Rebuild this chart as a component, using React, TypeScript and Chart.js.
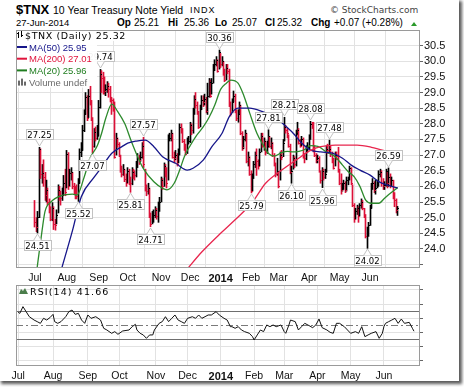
import React, { useEffect, useRef } from 'react';
import { Chart, registerables } from 'chart.js';
Chart.register(...registerables);

// ---------- axis labels ----------
const monthIdx = [0, 22, 44, 64, 87, 107, 128, 149, 168, 189, 210, 231];
const monthLbl = ['Jul', 'Aug', 'Sep', 'Oct', 'Nov', 'Dec', '2014', 'Feb', 'Mar', 'Apr', 'May', 'Jun'];
const yGrid = [23.5, 23.75, 24, 24.25, 24.5, 24.75, 25, 25.25, 25.5, 25.75, 26, 26.25, 26.5, 26.75, 27, 27.25,
  27.5, 27.75, 28, 28.25, 28.5, 28.75, 29, 29.25, 29.5, 29.75, 30, 30.25, 30.5, 30.75];
const yLabels = [24, 24.5, 25, 25.5, 26, 26.5, 27, 27.5, 28, 28.5, 29, 29.5, 30, 30.5];
const rsiGrid = [0, 10, 20, 30, 40, 50, 60, 70, 80, 90, 100];
const rsiLabels = [10, 30, 50, 70, 90];

// ---------- daily bars (Jul 2013 .. Jun 27 2014) ----------
const highs = [
  /*Jul*/ 25.55, 25.00, 25.20, 27.25, 27.20, 26.70, 26.85, 26.45, 26.20, 25.95, 25.60, 25.35, 25.48, 25.35, 24.95, 25.25, 26.05, 26.00, 25.85, 25.95, 26.35, 26.55,
  /*Aug*/ 27.15, 27.08, 26.55, 26.60, 26.45, 26.10, 26.00, 26.05, 26.25, 27.20, 27.40, 27.95, 28.45, 29.00, 28.90, 29.10, 29.20, 28.75, 28.20, 27.85, 27.90, 27.95,
  /*Sep*/ 28.75, 29.74, 29.70, 29.65, 29.50, 29.25, 29.35, 29.30, 29.20, 28.85, 28.80, 28.70, 27.70, 27.55, 27.40, 27.00, 26.65, 26.70, 26.55, 26.40,
  /*Oct*/ 26.60, 26.55, 26.30, 26.60, 26.55, 26.50, 26.80, 27.05, 27.00, 27.10, 27.40, 27.57, 26.55, 26.05, 26.10, 25.95, 25.15, 25.20, 25.25, 25.35, 25.30, 25.50, 25.65,
  /*Nov*/ 26.30, 26.25, 26.75, 26.70, 26.60, 27.65, 27.70, 27.80, 27.70, 27.10, 27.15, 27.05, 27.20, 28.00, 28.00, 27.85, 27.50, 27.35, 27.55, 27.60,
  /*Dec*/ 28.05, 28.00, 28.50, 28.90, 29.00, 28.70, 28.40, 28.60, 28.90, 28.90, 28.95, 28.85, 29.30, 29.45, 29.40, 29.45, 29.90, 30.05, 30.15, 30.05, 30.36,
  /*Jan*/ 30.25, 30.15, 30.00, 29.75, 29.90, 29.90, 29.75, 28.70, 28.80, 29.05, 28.95, 28.45, 28.45, 28.70, 28.60, 27.75, 27.60, 27.80, 27.70, 27.10, 26.95,
  /*Feb*/ 26.50, 26.40, 26.80, 27.10, 27.20, 26.85, 27.20, 27.70, 27.70, 27.55, 27.45, 27.45, 27.81, 27.60, 27.55, 27.40, 27.05, 26.75, 26.90,
  /*Mar*/ 26.45, 27.10, 27.15, 27.50, 28.21, 27.95, 27.85, 27.65, 27.35, 26.65, 27.00, 26.95, 27.80, 28.05, 27.85, 27.50, 27.60, 27.55, 27.05, 27.30, 27.40,
  /*Apr*/ 27.65, 28.08, 28.05, 28.05, 27.30, 27.05, 27.00, 26.95, 26.50, 26.60, 26.55, 26.55, 27.30, 27.35, 27.48, 27.30, 27.10, 26.90, 27.10, 27.10, 27.25,
  /*May*/ 26.55, 26.40, 26.10, 26.20, 26.15, 26.30, 26.30, 26.65, 26.60, 26.05, 25.45, 25.30, 25.40, 25.35, 25.45, 25.60, 25.55, 25.30, 25.10, 24.70, 24.85,
  /*Jun*/ 25.40, 26.10, 26.25, 26.15, 26.20, 26.20, 26.50, 26.55, 26.50, 26.25, 26.15, 26.55, 26.45, 26.59, 26.40, 26.30, 26.20, 25.80, 25.60, 25.36,
];
const lows = [
  /*Jul*/ 24.70, 24.55, 24.51, 25.00, 26.25, 26.10, 26.00, 25.55, 25.50, 25.40, 25.15, 24.90, 24.90, 24.62, 24.60, 24.80, 25.15, 25.55, 25.40, 25.55, 25.70, 25.70,
  /*Aug*/ 25.95, 25.90, 26.00, 26.20, 25.92, 25.75, 25.60, 25.60, 25.52, 26.10, 26.95, 27.15, 27.75, 28.30, 28.10, 28.20, 28.60, 28.10, 27.07, 27.25, 27.45, 27.50,
  /*Sep*/ 27.60, 28.50, 29.00, 28.95, 28.95, 28.90, 29.00, 28.85, 28.70, 28.30, 28.40, 26.90, 27.00, 27.25, 26.95, 26.45, 26.30, 26.35, 26.15, 26.00,
  /*Oct*/ 26.10, 26.05, 25.81, 26.05, 26.25, 26.20, 26.30, 26.60, 26.70, 26.80, 26.90, 26.60, 25.85, 25.70, 25.75, 25.00, 24.71, 24.80, 24.85, 25.00, 24.95, 24.85, 25.20,
  /*Nov*/ 25.50, 25.90, 26.00, 26.30, 25.95, 26.20, 27.45, 27.45, 26.90, 26.75, 26.85, 26.65, 26.75, 27.00, 27.70, 27.40, 27.15, 27.00, 27.05, 27.35,
  /*Dec*/ 27.40, 27.65, 27.70, 28.30, 28.50, 28.30, 27.85, 27.90, 28.45, 28.55, 28.60, 28.35, 28.30, 28.85, 28.85, 28.95, 29.30, 29.70, 29.85, 29.65, 29.75,
  /*Jan*/ 29.80, 29.85, 29.55, 29.35, 29.40, 29.60, 28.55, 28.25, 28.35, 28.70, 28.35, 28.10, 28.05, 28.30, 27.65, 27.15, 27.20, 27.45, 26.75, 26.65, 26.35,
  /*Feb*/ 25.79, 25.85, 26.25, 26.60, 26.35, 26.55, 26.65, 27.10, 27.25, 27.15, 27.00, 27.05, 27.25, 27.25, 27.20, 26.95, 26.65, 26.30, 26.35,
  /*Mar*/ 25.95, 26.20, 26.85, 26.95, 27.45, 27.70, 27.55, 27.25, 26.40, 26.10, 26.55, 26.60, 26.65, 27.65, 27.35, 27.25, 27.30, 26.90, 26.75, 26.85, 27.10,
  /*Apr*/ 27.20, 27.50, 27.85, 27.10, 26.95, 26.75, 26.75, 26.45, 26.10, 25.96, 26.20, 26.25, 26.45, 27.05, 27.05, 26.95, 26.75, 26.55, 26.65, 26.85, 26.45,
  /*May*/ 26.05, 25.75, 25.85, 25.90, 25.80, 25.85, 26.05, 26.20, 26.05, 25.35, 24.85, 24.95, 25.10, 24.85, 25.05, 25.30, 25.25, 25.00, 24.35, 24.02, 24.40,
  /*Jun*/ 24.75, 25.30, 25.90, 25.80, 25.75, 25.95, 26.00, 26.30, 26.00, 25.90, 25.90, 26.00, 25.95, 26.00, 25.95, 26.00, 25.60, 25.35, 25.15, 25.07,
];
const closes = [
  /*Jul*/ 24.85, 24.70, 25.03, 27.20, 26.38, 26.42, 26.30, 25.72, 25.88, 25.50, 25.32, 24.97, 25.30, 24.80, 24.78, 25.10, 25.90, 25.70, 25.62, 25.80, 26.12, 25.82,
  /*Aug*/ 27.05, 26.00, 26.42, 26.45, 26.00, 25.80, 25.78, 25.70, 26.10, 27.10, 27.15, 27.80, 28.30, 28.85, 28.20, 28.90, 28.65, 28.20, 27.30, 27.75, 27.55, 27.85,
  /*Sep*/ 28.55, 29.60, 29.45, 29.35, 29.05, 29.12, 29.20, 29.10, 28.85, 28.75, 28.50, 26.95, 27.55, 27.35, 27.00, 26.55, 26.40, 26.55, 26.25, 26.10,
  /*Oct*/ 26.50, 26.20, 26.10, 26.45, 26.40, 26.35, 26.70, 26.90, 26.85, 26.95, 27.30, 26.70, 25.95, 25.85, 25.95, 25.10, 24.80, 25.05, 25.10, 25.25, 25.05, 25.35, 25.50,
  /*Nov*/ 26.20, 26.00, 26.65, 26.40, 26.10, 27.50, 27.55, 27.70, 26.95, 26.90, 27.00, 26.70, 27.10, 27.90, 27.85, 27.45, 27.25, 27.05, 27.40, 27.45,
  /*Dec*/ 27.95, 27.80, 28.40, 28.80, 28.60, 28.40, 27.90, 28.50, 28.75, 28.70, 28.80, 28.40, 28.90, 29.35, 28.90, 29.30, 29.80, 29.90, 30.05, 29.70, 30.30,
  /*Jan*/ 29.90, 30.00, 29.60, 29.40, 29.80, 29.70, 28.60, 28.30, 28.70, 28.90, 28.40, 28.20, 28.30, 28.60, 27.70, 27.25, 27.50, 27.70, 26.80, 26.95, 26.40,
  /*Feb*/ 25.85, 26.30, 26.70, 27.00, 26.80, 26.65, 27.10, 27.60, 27.30, 27.45, 27.10, 27.30, 27.60, 27.30, 27.40, 27.00, 26.70, 26.40, 26.50,
  /*Mar*/ 26.00, 27.00, 26.95, 27.40, 27.90, 27.80, 27.70, 27.30, 26.45, 26.50, 26.90, 26.70, 27.70, 27.80, 27.40, 27.30, 27.50, 26.95, 26.90, 27.20, 27.25,
  /*Apr*/ 27.55, 28.00, 27.95, 27.20, 27.00, 26.85, 26.90, 26.50, 26.20, 26.50, 26.30, 26.40, 27.20, 27.15, 27.20, 27.05, 26.85, 26.60, 27.00, 26.98, 26.50,
  /*May*/ 26.10, 25.90, 26.00, 26.10, 25.90, 26.20, 26.25, 26.60, 26.10, 25.40, 24.95, 25.20, 25.30, 25.05, 25.40, 25.50, 25.30, 25.05, 24.42, 24.60, 24.75,
  /*Jun*/ 25.30, 26.00, 26.10, 25.90, 25.95, 26.05, 26.40, 26.45, 26.10, 26.00, 26.05, 26.50, 26.10, 26.30, 26.00, 26.20, 25.70, 25.55, 25.25, 25.32,
];

// ---------- moving averages (read at sample days) ----------
const ma20Idx = [1, 5, 7, 11, 18, 26, 29, 34, 38, 43, 46, 49, 53, 57, 62, 66, 69, 75, 82, 88, 91, 96, 100, 103, 107, 111, 116, 120, 124, 128, 132, 135, 140, 144, 148, 153, 157, 161, 165, 170, 174, 178, 182, 186, 190, 195, 201, 207, 212, 216, 220, 224, 228, 232, 237, 241, 245, 250];
const ma20Val = [23.2, 24.6, 25.2, 25.5, 25.7, 25.75, 25.72, 26.3, 26.9, 27.3, 27.7, 28.2, 28.63, 28.4, 28.0, 27.5, 27.15, 26.55, 26.15, 25.94, 25.89, 26.1, 26.55, 26.95, 27.3, 27.6, 27.9, 28.2, 28.6, 29.1, 29.3, 29.4, 29.3, 28.9, 28.35, 27.7, 27.35, 27.05, 26.97, 27.08, 27.12, 27.1, 27.12, 27.18, 27.3, 27.28, 27.1, 26.95, 26.68, 26.47, 26.31, 26.0, 25.56, 25.46, 25.46, 25.62, 25.78, 25.96];
const ma50Idx = [18, 26, 32, 41, 47, 53, 60, 64, 70, 76, 82, 88, 97, 105, 109, 116, 122, 129, 134, 140, 148, 157, 165, 172, 178, 184, 190, 197, 205, 212, 218, 224, 231, 237, 243, 250];
const ma50Val = [23.3, 24.6, 25.67, 26.3, 26.68, 27.06, 27.27, 27.38, 27.45, 27.48, 27.27, 26.95, 26.74, 26.52, 26.58, 26.84, 27.27, 27.7, 28.23, 28.5, 28.5, 28.39, 28.23, 27.96, 27.7, 27.38, 27.16, 27.1, 27.06, 26.9, 26.68, 26.52, 26.36, 26.15, 26.04, 25.95];
const ma200Idx = [104, 115, 128, 138, 150, 159, 170, 180, 190, 197, 207, 222, 232, 243, 250];
const ma200Val = [23.3, 23.9, 24.5, 24.93, 25.5, 26.1, 26.52, 26.84, 27.15, 27.27, 27.32, 27.32, 27.25, 27.11, 27.01];

// ---------- RSI(14) ----------
const rsiIdx = [0, 1, 3, 5, 7, 10, 12, 14, 16, 18, 20, 22, 23, 25, 27, 30, 32, 34, 36, 38, 40, 42, 44, 46, 49, 52, 54, 56, 59, 61, 63, 66, 70, 72, 74, 75, 77, 79, 81, 83, 85, 86, 89, 91, 93, 95, 97, 99, 101, 103, 105, 107, 110, 112, 114, 116, 118, 120, 122, 125, 127, 130, 132, 134, 135, 137, 139, 141, 143, 146, 148, 149, 151, 153, 155, 157, 159, 161, 163, 166, 168, 169, 171, 172, 175, 177, 179, 181, 183, 186, 188, 190, 192, 195, 197, 199, 201, 203, 206, 208, 210, 213, 215, 217, 219, 221, 223, 226, 228, 230, 231, 232, 234, 236, 238, 240, 242, 244, 247, 249, 250];
const rsiVal = [68.4, 66.9, 76.4, 69.3, 62.2, 57.5, 55.2, 52.8, 59.9, 57.5, 60.8, 65.5, 55.2, 52.8, 55.2, 62.2, 69.3, 71.6, 65.5, 66.9, 57.5, 52.8, 64.6, 59.9, 62.2, 57.5, 45.8, 43.4, 38.7, 41.1, 37.3, 42.0, 43.4, 48.1, 51.4, 43.4, 38.7, 36.4, 31.6, 36.4, 36.4, 43.4, 52.8, 55.2, 62.2, 55.2, 59.9, 64.6, 57.5, 55.2, 52.8, 59.9, 62.2, 59.9, 64.6, 59.9, 62.2, 64.6, 64.6, 69.3, 64.6, 59.9, 57.5, 48.1, 48.1, 45.8, 48.1, 43.4, 41.1, 38.7, 34.0, 29.3, 36.4, 43.4, 41.1, 50.5, 48.1, 50.5, 48.1, 50.5, 41.1, 38.7, 50.5, 57.5, 55.2, 43.4, 48.1, 52.8, 50.5, 46.7, 50.5, 58.9, 46.7, 43.4, 40.1, 38.7, 52.8, 52.8, 48.1, 43.4, 38.7, 41.1, 38.7, 48.1, 34.0, 36.4, 38.7, 41.1, 31.6, 38.7, 48.1, 52.8, 55.2, 57.5, 59.9, 52.8, 58.9, 52.8, 54.2, 45.8, 41.66];

// ---------- high / low markers ----------
const annIdx = [3, 2, 30, 40, 45, 66, 75, 80, 127, 149, 161, 172, 177, 190, 198, 203, 229, 244];
const annVal = [27.25, 24.51, 25.52, 27.07, 29.74, 25.81, 27.57, 24.71, 30.36, 25.79, 27.81, 28.21, 26.10, 28.08, 25.96, 27.48, 24.02, 26.59];
const annPos = ['a', 'b', 'b', 'b', 'a', 'b', 'a', 'b', 'a', 'b', 'a', 'a', 'b', 'a', 'b', 'a', 'b', 'a'];

const legendRows = [
  { text: 'MA(50) 25.95', color: '#16168a' },
  { text: 'MA(200) 27.01', color: '#e0143c' },
  { text: 'MA(20) 25.96', color: '#1f7d1f' },
];

const C_UP = '#000000';
const C_DN = '#dc1038';
const C_MA50 = '#16168a';
const C_MA200 = '#e8264e';
const C_MA20 = '#2d8a2d';
const GRID = '#e2e2e2';
const FRAME = '#9a9a9a';
const SANS = '"Liberation Sans", Arial, sans-serif';
const DV = '"DejaVu Sans", Verdana, sans-serif';

function xAxis(showLabels: boolean, height: number) {
  return {
    type: 'linear' as const,
    min: -1.4,
    max: 253.8,
    afterBuildTicks: (ax: any) => { ax.ticks = monthIdx.map((v) => ({ value: v })); },
    afterFit: (ax: any) => { ax.height = height; ax.paddingLeft = 0; ax.paddingRight = 0; },
    grid: { color: GRID, drawTicks: false, lineWidth: 1 },
    border: { display: false },
    ticks: {
      display: showLabels,
      autoSkip: false,
      maxRotation: 0,
      minRotation: 0,
      padding: 4,
      color: '#111',
      callback: (v: any) => { const k = monthIdx.indexOf(v); return k >= 0 ? monthLbl[k] : ''; },
      font: (ctx: any) => ({ family: SANS, size: ctx.tick && ctx.tick.value === 128 ? 11 : 10.5, weight: ctx.tick && ctx.tick.value === 128 ? 'bold' : 'normal' }),
    },
  };
}

const framePlugin = {
  id: 'frame',
  afterDraw(chart: any) {
    const { ctx, chartArea: a } = chart;
    ctx.save();
    ctx.strokeStyle = FRAME;
    ctx.lineWidth = 1;
    ctx.strokeRect(a.left + 0.5, a.top + 0.5, a.right - a.left - 1, a.bottom - a.top - 1);
    ctx.restore();
  },
};

const snapPlugin = {
  id: 'snap',
  beforeDatasetsDraw(chart: any) {
    chart.data.datasets.forEach((ds: any, i: number) => {
      if (ds.type !== 'bar') return;
      chart.getDatasetMeta(i).data.forEach((el: any) => { el.x = Math.floor(el.x) + 0.5; });
    });
  },
  afterDatasetDraw(chart: any, args: any) {
    const ds = chart.data.datasets[args.index];
    if (ds.type !== 'bar') return;
    const { ctx } = chart;
    const ys = chart.scales.y;
    ctx.save();
    args.meta.data.forEach((el: any, i: number) => {
      ctx.fillStyle = ds.backgroundColor[i];
      ctx.fillRect(Math.floor(el.x) + 1, Math.round(ys.getPixelForValue(closes[i])), 1, 1);
    });
    ctx.restore();
  },
};

const annotatePlugin = {
  id: 'annotate',
  afterDatasetsDraw(chart: any) {
    const { ctx } = chart;
    const xs = chart.scales.x, ys = chart.scales.y;
    ctx.save();
    ctx.font = `8.5px ${DV}`;
    ctx.textAlign = 'center';
    ctx.textBaseline = 'alphabetic';
    ctx.lineWidth = 1;
    annIdx.forEach((idx, k) => {
      const v = annVal[k];
      const above = annPos[k] === 'a';
      const px = Math.floor(xs.getPixelForValue(idx)) + 0.5;
      const py = Math.round(ys.getPixelForValue(v));
      const txt = v.toFixed(2);
      const bw = Math.round(ctx.measureText(txt).width + 4);
      const bh = 11, ph = 6;
      const bx = Math.round(px - bw / 2);
      const tipY = above ? py - 1 : py + 1;
      const by = above ? tipY - ph - bh : tipY + ph;
      ctx.fillStyle = '#ffffff';
      ctx.fillRect(bx, by, bw, bh);
      ctx.strokeStyle = '#c2c2c2';
      ctx.strokeRect(bx + 0.5, by + 0.5, bw - 1, bh - 1);
      const edge = above ? by + bh - 0.5 : by + 0.5;
      ctx.beginPath();
      ctx.moveTo(px - 4, edge);
      ctx.lineTo(px, tipY);
      ctx.lineTo(px + 4, edge);
      ctx.closePath();
      ctx.fill();
      ctx.beginPath();
      ctx.moveTo(px - 4, edge);
      ctx.lineTo(px, tipY);
      ctx.lineTo(px + 4, edge);
      ctx.stroke();
      ctx.fillStyle = '#000';
      ctx.fillText(txt, px, by + bh - 2.5);
    });
    ctx.restore();
  },
};

const legendPlugin = {
  id: 'priceLegend',
  afterDatasetsDraw(chart: any) {
    const { ctx } = chart;
    ctx.save();
    ctx.textAlign = 'left';
    ctx.textBaseline = 'alphabetic';
    ctx.font = `9.5px ${DV}`;
    (ctx as any).letterSpacing = '0.6px';
    const t1 = '$TNX (Daily) 25.32';
    const w1 = ctx.measureText(t1).width;
    ctx.fillStyle = 'rgba(255,255,255,0.92)';
    ctx.fillRect(17, 30, w1 + 10, 11);
    ctx.fillStyle = '#000';
    ctx.fillRect(18, 32, 1, 6);
    ctx.fillRect(17, 33, 1, 1);
    ctx.fillRect(21, 31, 1, 6);
    ctx.fillRect(22, 35, 1, 1);
    ctx.fillText(t1, 25, 38.5);
    (ctx as any).letterSpacing = '0px';
    ctx.font = `9.5px ${SANS}`;
    const blockW = 80;
    ctx.fillStyle = 'rgba(255,255,255,0.94)';
    ctx.fillRect(17, 41, blockW, 11.7 * 3 + 1);
    legendRows.forEach((r, k) => {
      const base = 50.5 + k * 11.7;
      ctx.fillStyle = r.color;
      ctx.fillRect(17, base - 4.5, 10, 2);
      ctx.fillText(r.text, 29, base);
    });
    const vb = 50.5 + 3 * 11.7;
    const vt = 'Volume undef';
    const vw = ctx.measureText(vt).width;
    ctx.fillStyle = 'rgba(255,255,255,0.92)';
    ctx.fillRect(17, vb - 9, vw + 14, 11);
    ctx.fillStyle = '#6a6a6a';
    ctx.fillRect(18, vb - 5, 2, 5);
    ctx.fillRect(21, vb - 7, 2, 7);
    ctx.fillRect(24, vb - 4, 2, 4);
    ctx.fillText(vt, 29, vb);
    ctx.restore();
  },
};

const rsiDecorPlugin = {
  id: 'rsiDecor',
  beforeDatasetsDraw(chart: any) {
    const { ctx, chartArea: a } = chart;
    const ys = chart.scales.y;
    ctx.save();
    ctx.lineWidth = 1;
    [30, 70].forEach((v) => {
      const y = Math.round(ys.getPixelForValue(v)) + 0.5;
      ctx.strokeStyle = '#6e6e6e';
      ctx.beginPath(); ctx.moveTo(a.left, y); ctx.lineTo(a.right, y); ctx.stroke();
    });
    const y50 = Math.round(ys.getPixelForValue(50)) + 0.5;
    ctx.strokeStyle = '#7a7a7a';
    ctx.setLineDash([7, 3, 2, 3]);
    ctx.beginPath(); ctx.moveTo(a.left, y50); ctx.lineTo(a.right, y50); ctx.stroke();
    ctx.restore();
  },
  afterDatasetsDraw(chart: any) {
    const { ctx } = chart;
    ctx.save();
    ctx.fillStyle = '#4b7d4b';
    ctx.beginPath();
    ctx.moveTo(19, 10); ctx.lineTo(21, 5); ctx.lineTo(23, 7); ctx.lineTo(25, 4); ctx.lineTo(28, 10); ctx.closePath();
    ctx.fill();
    ctx.fillStyle = '#000';
    ctx.font = `9.5px ${DV}`;
    (ctx as any).letterSpacing = '1.1px';
    ctx.textBaseline = 'alphabetic';
    ctx.fillText('RSI(14) 41.66', 30, 10.5);
    ctx.restore();
  },
};

function T(props: { x: number; b: number; size: number; bold?: boolean; family?: string; color?: string; ls?: number; children: any }) {
  const { x, b, size, bold, family, color, ls, children } = props;
  return (
    <span style={{
      position: 'absolute', left: x, top: b - 0.846 * size, fontSize: size, lineHeight: `${size}px`,
      fontWeight: bold ? 'bold' : 'normal', fontFamily: family || SANS, color: color || '#000',
      whiteSpace: 'nowrap', letterSpacing: ls ? `${ls}px` : undefined,
    }}>{children}</span>
  );
}

export default function App() {
  const mainRef = useRef<HTMLCanvasElement>(null);
  const rsiRef = useRef<HTMLCanvasElement>(null);

  useEffect(() => {
    document.body.style.margin = '0';
    const barColors = closes.map((c, i) => (i > 0 && c > closes[i - 1] ? C_UP : C_DN));
    const line = (idx: number[], val: number[], color: string, w: number) => ({
      type: 'line' as const,
      data: idx.map((x, k) => ({ x, y: val[k] })),
      borderColor: color,
      borderWidth: w,
      pointRadius: 0,
      cubicInterpolationMode: 'monotone' as const,
      order: 1,
    });
    const main = new Chart(mainRef.current as HTMLCanvasElement, {
      data: {
        datasets: [
          line(ma200Idx, ma200Val, C_MA200, 1.3) as any,
          line(ma50Idx, ma50Val, C_MA50, 1.3) as any,
          line(ma20Idx, ma20Val, C_MA20, 1.3) as any,
          {
            type: 'bar',
            data: highs.map((h, i) => ({ x: i, y: [lows[i], h] })),
            backgroundColor: barColors,
            barThickness: 1,
            order: 5,
          } as any,
        ],
      },
      options: {
        animation: false,
        responsive: false,
        devicePixelRatio: 1,
        events: [],
        layout: { padding: { left: 16, top: 30, right: 0, bottom: 0 } },
        plugins: { legend: { display: false }, tooltip: { enabled: false } },
        scales: {
          x: xAxis(true, 16) as any,
          y: {
            position: 'right',
            min: 23.39,
            max: 31.0,
            afterBuildTicks: (ax: any) => { ax.ticks = yGrid.map((v) => ({ value: v })); },
            afterFit: (ax: any) => { ax.width = 44; ax.paddingTop = 0; ax.paddingBottom = 0; },
            grid: { color: GRID, tickColor: '#666', tickLength: 3, drawTicks: true },
            border: { display: false },
            ticks: {
              padding: 1,
              color: '#111',
              font: { family: SANS, size: 11 },
              callback: (v: any) => (yLabels.includes(v) ? Number(v).toFixed(1) : ''),
            },
          } as any,
        },
      },
      plugins: [snapPlugin, annotatePlugin, legendPlugin, framePlugin],
    });

    const rsi = new Chart(rsiRef.current as HTMLCanvasElement, {
      type: 'line',
      data: {
        datasets: [{
          data: rsiIdx.map((x, k) => ({ x, y: rsiVal[k] })),
          borderColor: '#111',
          borderWidth: 1,
          pointRadius: 0,
          tension: 0,
        }],
      },
      options: {
        animation: false,
        responsive: false,
        devicePixelRatio: 1,
        events: [],
        layout: { padding: { left: 16, top: 1, right: 0, bottom: 0 } },
        plugins: { legend: { display: false }, tooltip: { enabled: false } },
        scales: {
          x: xAxis(true, 21) as any,
          y: {
            position: 'right',
            min: -7.5,
            max: 107,
            afterBuildTicks: (ax: any) => { ax.ticks = rsiGrid.map((v) => ({ value: v })); },
            afterFit: (ax: any) => { ax.width = 44; ax.paddingTop = 0; ax.paddingBottom = 0; },
            grid: { color: GRID, tickColor: '#666', tickLength: 3, drawTicks: true },
            border: { display: false },
            ticks: {
              padding: 1,
              color: '#111',
              font: { family: SANS, size: 11 },
              callback: (v: any) => (rsiLabels.includes(v) ? String(v) : ''),
            },
          } as any,
        },
      },
      plugins: [rsiDecorPlugin, framePlugin],
    });
    return () => { main.destroy(); rsi.destroy(); };
  }, []);

  const ohlc: [string, number, boolean][] = [
    ['Op', 117, true], ['25.21', 134, false], ['Hi', 168, true], ['25.36', 184, false],
    ['Lo', 215, true], ['25.07', 232, false], ['Cl', 265, true], ['25.32', 277, false],
    ['Chg', 311, true], ['+0.07 (+0.28%)', 334, false],
  ];

  return (
    <div style={{ position: 'relative', width: 464, height: 387, background: '#fff', overflow: 'hidden' }}>
      <div style={{ position: 'absolute', left: 0, top: 0, width: 459, height: 381, background: '#fff', boxShadow: '2px 2px 3px 1px rgba(0,0,0,0.65)' }} />
      <T x={16} b={13.5} size={13} bold>$TNX</T>
      <T x={53} b={13.5} size={10.5}>10 Year Treasury Note Yield</T>
      <T x={190} b={13.5} size={9} ls={1}>INDX</T>
      <T x={330} b={13.5} size={9} family={DV} color="#444">© StockCharts.com</T>
      <T x={16} b={26.5} size={9.5}>27-Jun-2014</T>
      {ohlc.map(([t, x, b]) => (
        <T key={t + x} x={x} b={26.5} size={10} bold={b}>{t}</T>
      ))}
      <div style={{ position: 'absolute', left: 411, top: 22, width: 0, height: 0, borderLeft: '3px solid transparent', borderRight: '3px solid transparent', borderBottom: '4px solid #2a9a2a' }} />
      <canvas ref={mainRef} width={464} height={284} style={{ position: 'absolute', left: 0, top: 0, width: 464, height: 284 }} />
      <canvas ref={rsiRef} width={464} height={103} style={{ position: 'absolute', left: 0, top: 284, width: 464, height: 103 }} />
    </div>
  );
}
